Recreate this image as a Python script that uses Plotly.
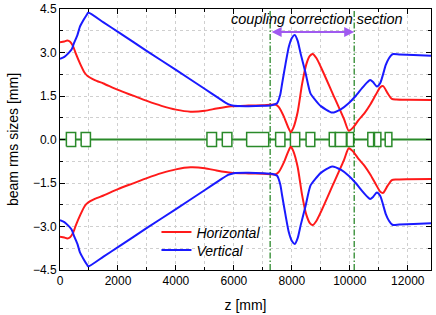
import plotly.graph_objects as go

# ---- data ----
z_h = [0, 150, 250, 350, 450, 550, 700, 850, 950, 1200, 1500, 2000, 2500, 3000, 3500, 4000, 4500, 5000,
       5400, 5900, 6500, 7000, 7450, 7550, 7720, 7880, 7960, 8050, 8200, 8350, 8500, 8620, 8720, 8850,
       9000, 9400, 9800, 9960, 10100, 10300, 10500, 10700, 10900, 11050, 11150, 11300, 11450, 11600,
       12000, 12800]
horizontal = [3.35, 3.38, 3.41, 3.37, 3.22, 2.95, 2.6, 2.3, 2.19, 2.05, 1.93, 1.71, 1.52, 1.33, 1.16,
              1.03, 0.96, 0.99, 1.07, 1.15, 1.17, 1.18, 1.2, 1.12, 0.8, 0.4, 0.25, 0.4, 0.95, 1.9, 2.6,
              2.88, 2.95, 2.8, 2.5, 1.6, 0.7, 0.3, 0.4, 0.67, 0.9, 1.2, 1.55, 1.8, 1.84, 1.6, 1.4, 1.38,
              1.37, 1.36]

z_v = [0, 150, 286, 400, 482, 600, 688, 800, 940, 975, 1500, 2000, 3000, 4000, 5000, 5500, 5800, 6000,
       6500, 7000, 7300, 7490, 7600, 7665, 7780, 7895, 8000, 8100, 8200, 8300, 8470, 8640, 8810, 9000,
       9390, 9700, 9960, 10200, 10420, 10600, 10700, 10800, 10930, 11050, 11240, 11350, 11470, 11700,
       12200, 12800]
vertical = [2.78, 2.85, 2.97, 3.1, 3.32, 3.6, 3.89, 4.1, 4.33, 4.38, 4.04, 3.71, 3.05, 2.4, 1.74, 1.41,
            1.22, 1.16, 1.15, 1.16, 1.18, 1.25, 1.55, 1.94, 2.6, 3.2, 3.5, 3.6, 3.4, 2.97, 2.3, 1.59, 1.36,
            1.15, 0.93, 1.05, 1.25, 1.5, 1.77, 1.97, 2.05, 1.98, 1.83, 1.95, 2.57, 2.8, 2.94, 2.93, 2.91,
            2.89]

# beamline elements (start, end) in mm
elem_start = [220, 730, 5070, 5600, 6440, 7440, 7950, 8490, 9290, 9500, 9900, 10620, 10850, 11220]
elem_end = [540, 1050, 5400, 5930, 7200, 7760, 8270, 8790, 9500, 9880, 10130, 10820, 11070, 11450]
elem_half = 0.24
beamline_z = [0, 12800]

section_bounds = [7250, 10150]
section_label = "coupling correction section"

x_ticks = [0, 2000, 4000, 6000, 8000, 10000, 12000]
x_ticktext = ["0", "2000", "4000", "6000", "8000", "10000", "12000"]
y_ticks = [-4.5, -3.0, -1.5, 0.0, 1.5, 3.0, 4.5]

RED = "#ff1a1a"
BLUE = "#1a1aff"
GREEN = "#2a8a2a"
DGREEN = "#1a7f1a"
PURPLE = "#a05af0"

fig = go.Figure()

# beamline axis
fig.add_trace(go.Scatter(x=beamline_z, y=[0, 0], mode="lines",
                         line=dict(color=GREEN, width=2), showlegend=False, hoverinfo="skip"))
# element boxes
bx, by = [], []
for s, e in zip(elem_start, elem_end):
    bx += [s, e, e, s, s, None]
    by += [-elem_half, -elem_half, elem_half, elem_half, -elem_half, None]
fig.add_trace(go.Scatter(x=bx, y=by, mode="lines", fill="toself", fillcolor="white",
                         line=dict(color=GREEN, width=1.5), showlegend=False, hoverinfo="skip"))

# section bounds
for b in section_bounds:
    fig.add_trace(go.Scatter(x=[b, b], y=[-4.5, 4.5], mode="lines",
                             line=dict(color=DGREEN, width=1.2, dash="6px,2px,1.5px,2px"),
                             showlegend=False, hoverinfo="skip"))

# beam envelopes (upper and mirrored lower)
fig.add_trace(go.Scatter(x=z_h + [None] + z_h, y=horizontal + [None] + [-v for v in horizontal],
                         mode="lines", name="<i>Horizontal</i>", legend="legend",
                         line=dict(color=RED, width=2, shape="spline", smoothing=0.6)))
fig.add_trace(go.Scatter(x=z_v + [None] + z_v, y=vertical + [None] + [-v for v in vertical],
                         mode="lines", name="<i>Vertical</i>", legend="legend2",
                         line=dict(color=BLUE, width=2, shape="spline", smoothing=0.6)))

fig.add_annotation(x=section_bounds[1], y=3.71, ax=section_bounds[0], ay=3.71,
                   xref="x", yref="y", axref="x", ayref="y", text="",
                   showarrow=True, arrowhead=2, arrowside="end+start", arrowsize=1,
                   arrowwidth=2, arrowcolor=PURPLE)
fig.add_annotation(x=8850, y=4.15, xref="x", yref="y",
                   text="<i>" + section_label + "</i>", showarrow=False,
                   font=dict(size=14.5, color="black"))

axis_common = dict(showline=True, linecolor="black", linewidth=1, mirror="ticks",
                   ticks="inside", ticklen=5, tickcolor="black", showgrid=True,
                   gridcolor="#cfcfcf", griddash="dot", gridwidth=1, zeroline=False,
                   automargin=False, tickfont=dict(size=12, color="black"))

fig.update_xaxes(range=[0, 12800], tickvals=x_ticks, ticktext=x_ticktext,
                 minor=dict(dtick=1000, tick0=0, ticks="inside", ticklen=3, tickcolor="black",
                            showgrid=True, gridcolor="#cfcfcf", griddash="dot"),
                 title=dict(text="z [mm]", font=dict(size=14, color="black"), standoff=12),
                 **axis_common)
fig.update_yaxes(range=[-4.5, 4.5], tickvals=y_ticks, tickformat=".1f",
                 minor=dict(dtick=0.75, tick0=-4.5, ticks="inside", ticklen=3, tickcolor="black",
                            showgrid=True, gridcolor="#cfcfcf", griddash="dot"),
                 title=dict(text="beam rms sizes [mm]", font=dict(size=14, color="black"), standoff=10),
                 **axis_common)

legend_style = dict(xanchor="left", yanchor="top", bgcolor="rgba(0,0,0,0)",
                    font=dict(size=14, color="black"), itemwidth=30)
fig.update_layout(width=436, height=315, margin=dict(l=60, r=5, t=9, b=45),
                  paper_bgcolor="white", plot_bgcolor="white",
                  font=dict(family="Liberation Sans, Arial, sans-serif", color="black"),
                  legend=dict(x=0.26, y=0.205, **legend_style),
                  legend2=dict(x=0.26, y=0.136, **legend_style))

fig.write_html("out.html", config={"displayModeBar": False},
               post_script="document.body.style.margin='0';document.body.style.overflow='hidden';")
